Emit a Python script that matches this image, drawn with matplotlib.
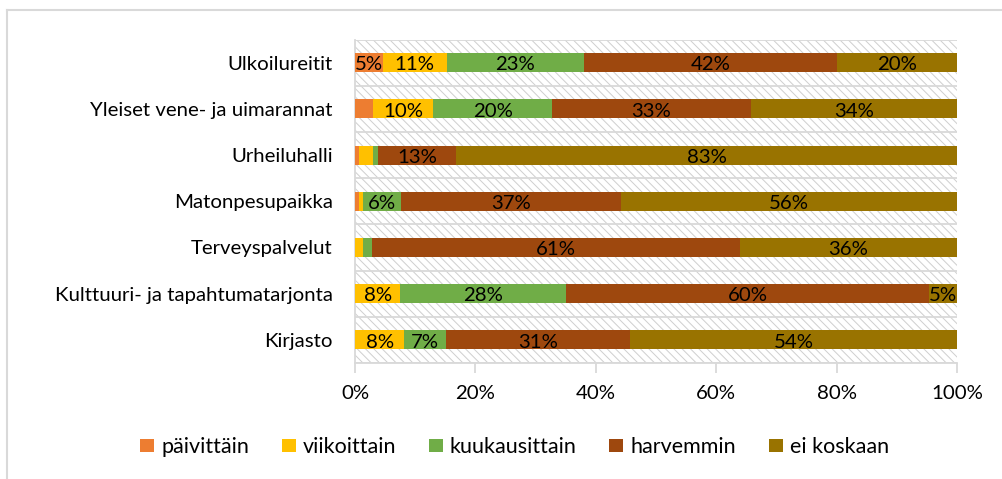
import matplotlib
matplotlib.use("Agg")
import matplotlib.pyplot as plt
from matplotlib.patches import Rectangle
import numpy as np

plt.rcParams['font.family'] = ['Lato', 'DejaVu Sans']
plt.rcParams['hatch.linewidth'] = 0.7

categories = ["Ulkoilureitit", "Yleiset vene- ja uimarannat", "Urheiluhalli",
              "Matonpesupaikka", "Terveyspalvelut",
              "Kulttuuri- ja tapahtumatarjonta", "Kirjasto"]
series = ["päivittäin", "viikoittain", "kuukausittain", "harvemmin", "ei koskaan"]
colors = ["#ED7D31", "#FFC000", "#70AD47", "#9E480E", "#997300"]

paivittain    = [4.6, 3.0, 0.6, 0.6, 0.0, 0.0, 0.0]
viikoittain   = [10.6, 10.0, 2.4, 0.7, 1.4, 7.5, 8.2]
kuukausittain = [22.9, 19.8, 0.9, 6.3, 1.5, 27.6, 6.9]
harvemmin     = [42.0, 32.9, 12.9, 36.6, 61.0, 60.2, 30.6]
ei_koskaan    = [19.9, 34.3, 83.2, 55.8, 36.1, 4.7, 54.3]
values = [paivittain, viikoittain, kuukausittain, harvemmin, ei_koskaan]

FS = 14.7
LFS = 15.5

fig = plt.figure(figsize=(10.02, 4.79), dpi=100)
ax = fig.add_axes([355/1002, 1-363/479, (957-355)/1002, (363-39.5)/479])

# outer chart border (top & left)
fig.add_artist(plt.Line2D([7/1002, 1], [1-10/479, 1-10/479], color="#d9d9d9", lw=1.5))
fig.add_artist(plt.Line2D([7/1002, 7/1002], [0, 1-10/479], color="#d9d9d9", lw=1.5))

# hatched plot area
ax.add_patch(Rectangle((0, 0), 1, 1, transform=ax.transAxes, facecolor="white",
                       edgecolor="#cfcfcf", lw=0, hatch="\\\\\\\\", zorder=0))

n = len(categories)
y = np.arange(n)
left = np.zeros(n)
for name, vals, col in zip(series, values, colors):
    vals = np.array(vals)
    ax.barh(y, vals, left=left, height=0.41, color=col, label=name, zorder=3)
    for yi, (l, v) in enumerate(zip(left, vals)):
        if v >= 4.5:
            ax.text(l + v/2, yi + 0.05, f"{round(v)}%", ha="center", va="center",
                    fontsize=FS, color="black", zorder=4)
    left += vals

ax.set_xlim(0, 100)
ax.set_ylim(n - 0.5, -0.5)
for b in np.arange(-0.5, n, 1.0):
    ax.axhline(b, color="#d9d9d9", lw=1.3, zorder=1)

ax.set_yticks(y)
ax.set_yticklabels(categories, fontsize=FS)
ax.set_xticks([0, 20, 40, 60, 80, 100])
ax.set_xticklabels(["0%", "20%", "40%", "60%", "80%", "100%"], fontsize=FS)
ax.tick_params(axis="y", length=0, pad=16)
ax.tick_params(axis="x", length=7, color="#d9d9d9", width=1.3, direction="out", pad=9)
for s in ["top", "right"]:
    ax.spines[s].set_visible(False)
ax.spines["left"].set_color("#d9d9d9")
ax.spines["left"].set_linewidth(1.3)
ax.spines["bottom"].set_color("#d9d9d9")
ax.spines["bottom"].set_linewidth(1.3)

handles = [Rectangle((0, 0), 1, 1, facecolor=c) for c in colors]
fig.legend(handles, series, loc="center", bbox_to_anchor=(514.5/1002, 1-447/479),
           ncol=5, frameon=False, fontsize=LFS, handlelength=0.65, handleheight=0.6,
           handletextpad=0.32, columnspacing=1.52, borderpad=0, borderaxespad=0)

fig.savefig("out.png", dpi=100)
